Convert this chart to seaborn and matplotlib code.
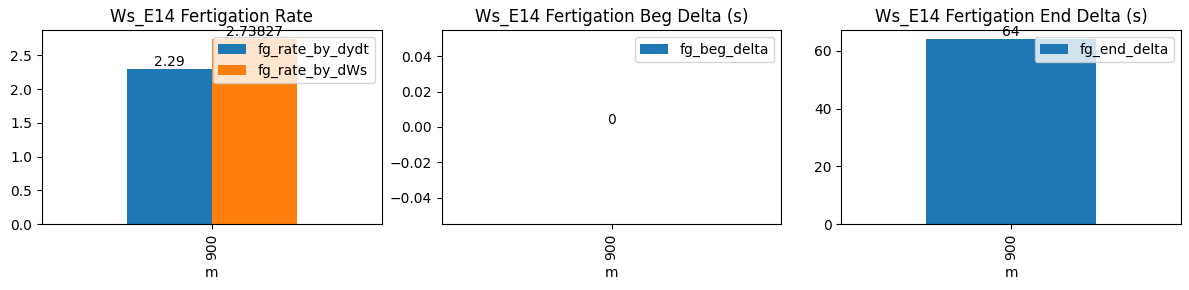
import matplotlib
matplotlib.use("Agg")
import matplotlib.pyplot as plt
import seaborn as sns
import pandas as pd

m = [900]
fg_rate_by_dydt = [2.29]
fg_rate_by_dWs = [2.73827]
fg_beg_delta = [0]
fg_end_delta = [64]

titles = ["Ws_E14 Fertigation Rate",
          "Ws_E14 Fertigation Beg Delta (s)",
          "Ws_E14 Fertigation End Delta (s)"]

df = pd.DataFrame({"m": m,
                   "fg_rate_by_dydt": fg_rate_by_dydt,
                   "fg_rate_by_dWs": fg_rate_by_dWs,
                   "fg_beg_delta": fg_beg_delta,
                   "fg_end_delta": fg_end_delta})

fig, axes = plt.subplots(1, 3, figsize=(11.89, 2.9), dpi=100)

# Panel 1: grouped bars
rate_cols = ["fg_rate_by_dydt", "fg_rate_by_dWs"]
long = df.melt(id_vars="m", value_vars=rate_cols, var_name="series", value_name="value")
ax = axes[0]
sns.barplot(data=long, x="m", y="value", hue="series", hue_order=rate_cols,
            palette=["#1f77b4", "#ff7f0e"], width=0.5, gap=0, saturation=1,
            errorbar=None, linewidth=0, legend=False, ax=ax)
for c in ax.containers:
    ax.bar_label(c)
ax.legend(ax.containers, rate_cols, loc="upper right")

# Panels 2 and 3: single series
for ax, col in zip(axes[1:], ["fg_beg_delta", "fg_end_delta"]):
    sns.barplot(data=df, x="m", y=col, color="#1f77b4", width=0.5, saturation=1,
                errorbar=None, linewidth=0, ax=ax)
    for c in ax.containers:
        ax.bar_label(c)
    ax.legend(ax.containers, [col], loc="upper right")

for ax, t in zip(axes, titles):
    ax.set_title(t)
    ax.set_xlabel("m")
    ax.set_ylabel("")
    ax.set_xlim(-0.5, 0.5)
    ax.tick_params(axis="x", labelrotation=90)

axes[1].relim()
axes[1].autoscale_view()

fig.subplots_adjust(left=42/1189, right=1181/1189, top=1-30/290,
                    bottom=1-224/290, wspace=0.1766)
fig.savefig("out.png", dpi=100)
